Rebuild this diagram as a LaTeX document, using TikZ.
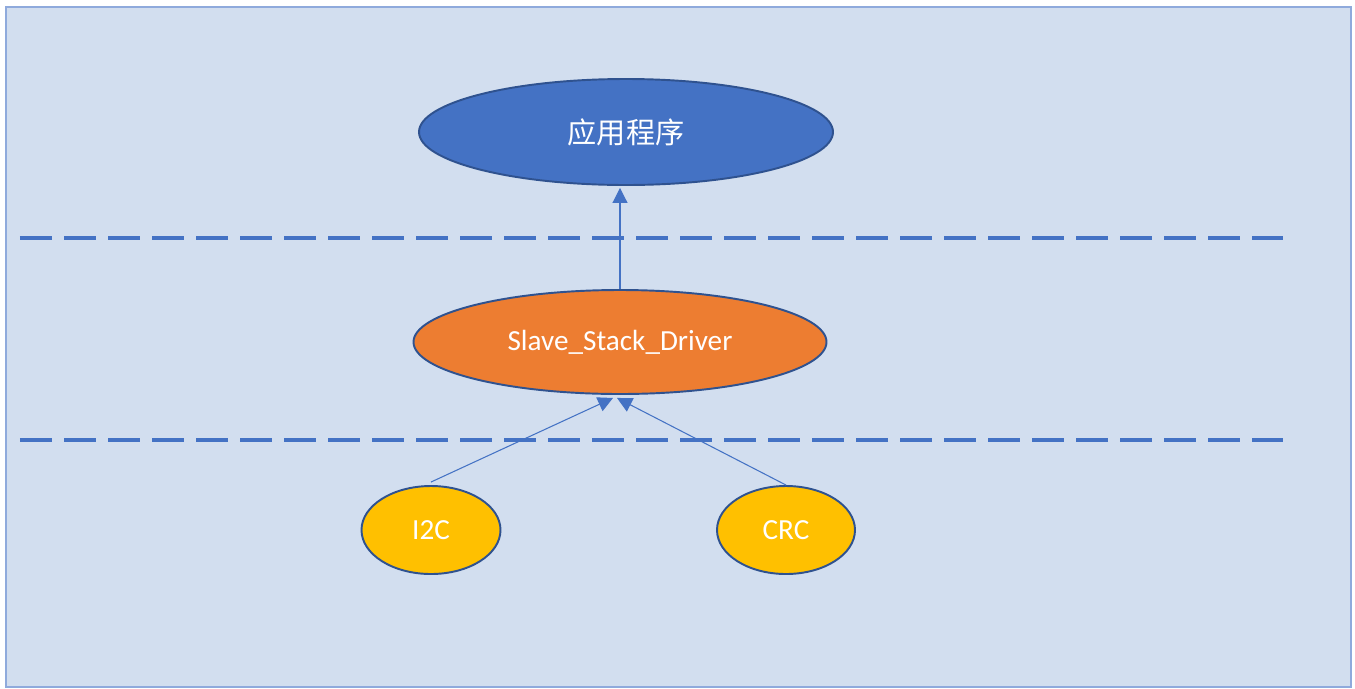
\documentclass[tikz,border=0pt]{standalone}
\usepackage{fontspec}
\setmainfont{Carlito}
\newfontfamily\cjk{Noto Sans CJK SC}
\usetikzlibrary{shapes.geometric,arrows.meta}
\definecolor{panel}{RGB}{210,222,239}
\definecolor{panelline}{RGB}{143,170,220}
\definecolor{appblue}{RGB}{68,114,196}
\definecolor{edgeblue}{RGB}{47,82,143}
\definecolor{drvorange}{RGB}{237,125,49}
\definecolor{modgold}{RGB}{255,192,0}
\tikzset{
  layer/.style={ellipse, draw=edgeblue, line width=1.1pt, inner sep=0pt, text=white, font=\fontsize{16.6}{18}\selectfont},
  sep/.style={draw=appblue, line width=2.3pt, dash pattern=on 0.64cm off 0.24cm},
  up/.style={draw=appblue, line width=0.6pt, -{Triangle[length=0.3cm,width=0.3cm]}}
}
\begin{document}
\begin{tikzpicture}
\useasboundingbox (0,0) rectangle (27.1,-13.76);
\fill[white] (0,0) rectangle (27.1,-13.76);
\filldraw[fill=panel, draw=panelline, line width=1.2pt] (0.12,-0.14) rectangle (27.02,-13.74);
% layer borders
\draw[sep] (0.40,-4.76) -- (25.66,-4.76);
\draw[sep] (0.40,-8.80) -- (25.66,-8.80);
% nodes
\node[layer, fill=appblue, minimum width=8.28cm, minimum height=2.12cm] (app) at (12.52,-2.64) {\cjk 应用程序};
\node[layer, fill=drvorange, minimum width=8.26cm, minimum height=2.08cm] (drv) at (12.40,-6.84) {Slave\_Stack\_Driver};
\node[layer, fill=modgold, minimum width=2.78cm, minimum height=1.76cm] (i2c) at (8.62,-10.60) {I2C};
\node[layer, fill=modgold, minimum width=2.76cm, minimum height=1.76cm] (crc) at (15.72,-10.60) {CRC};
% arrows
\draw[up] (drv.north) -- ([yshift=-0.04cm]drv.north |- app.south);
\draw[up] ([yshift=0.06cm]i2c.north) -- ([xshift=-0.14cm,yshift=-0.06cm]drv.south);
\draw[up] (crc.north) -- ([xshift=-0.06cm,yshift=-0.06cm]drv.south);
\end{tikzpicture}
\end{document}
